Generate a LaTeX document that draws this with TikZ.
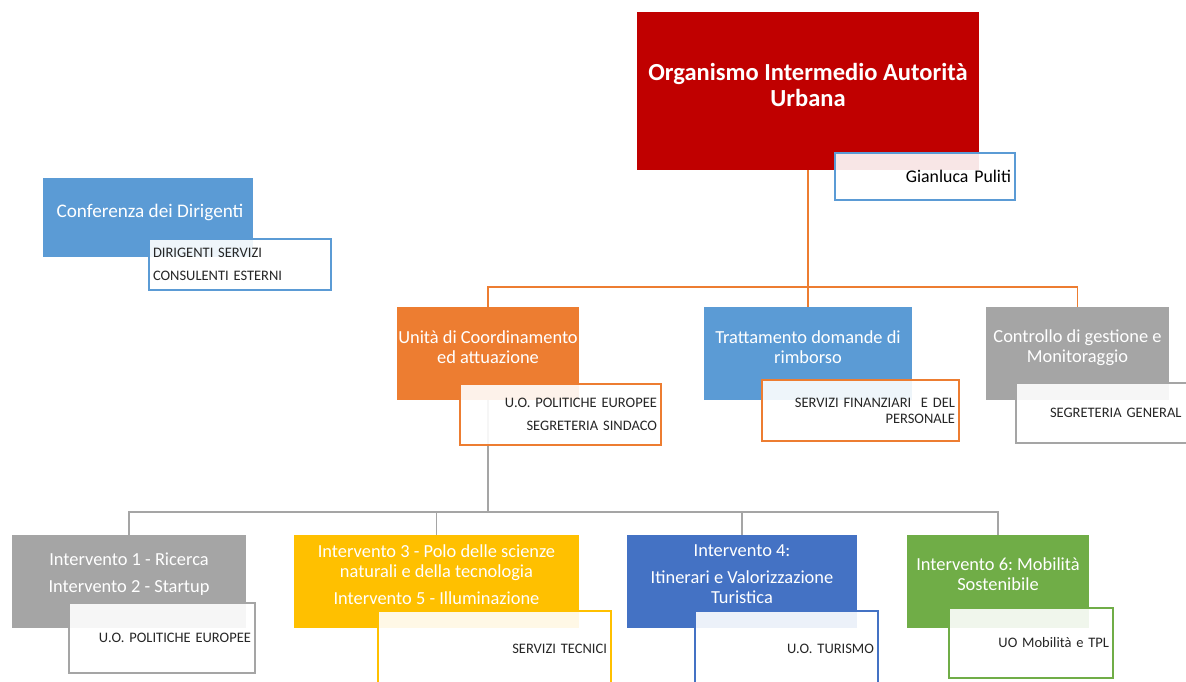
\documentclass[tikz,border=0pt]{standalone}
\usepackage{fontspec}
\setmainfont{Carlito}
\frenchspacing
\pgfdeclarelayer{background}
\pgfsetlayers{background,main}
\definecolor{cred}{HTML}{C00000}
\definecolor{corange}{HTML}{ED7D31}
\definecolor{cblue}{HTML}{5B9BD5}
\definecolor{cgray}{HTML}{A5A5A5}
\definecolor{cyellow}{HTML}{FFC000}
\definecolor{cdblue}{HTML}{4472C4}
\definecolor{cgreen}{HTML}{70AD47}
\definecolor{ctext}{HTML}{262626}
\tikzset{
  mainbox/.style={rectangle, inner sep=0pt, outer sep=0pt, draw=none},
  subbox/.style={rectangle, inner sep=0pt, outer sep=0pt, fill=white, fill opacity=0.9, text opacity=1, line width=1.5pt, text=ctext, font=\fontsize{14.5}{16}\selectfont},
  maintxt/.style={text=white, align=center, font=\fontsize{18.4}{20}\selectfont, inner sep=0pt},
  conn/.style={line width=1.8pt}
}
\begin{document}
\begin{tikzpicture}[x=1pt,y=-1pt]
\useasboundingbox (0,0) rectangle (1186,681);
\clip (0,0) rectangle (1186,681);
% main boxes
\node[mainbox, fill=cred, minimum width=342pt, minimum height=158pt] (top) at (808,91) {};
\node[mainbox, fill=cblue, minimum width=210pt, minimum height=79pt] (conf) at (148,217.5) {};
\node[mainbox, fill=corange, minimum width=182pt, minimum height=93pt] (unita) at (488,353.5) {};
\node[mainbox, fill=cblue, minimum width=208pt, minimum height=93pt] (tratt) at (808,353.5) {};
\node[mainbox, fill=cgray, minimum width=183pt, minimum height=93pt] (ctrl) at (1077.5,353.5) {};
\node[mainbox, fill=cgray, minimum width=234pt, minimum height=93pt] (b1) at (129,581.5) {};
\node[mainbox, fill=cyellow, minimum width=285pt, minimum height=93pt] (b2) at (436.5,581.5) {};
\node[mainbox, fill=cdblue, minimum width=230pt, minimum height=93pt] (b3) at (742,581.5) {};
\node[mainbox, fill=cgreen, minimum width=182pt, minimum height=93pt] (b4) at (998,581.5) {};
% main texts
\node[maintxt, font=\bfseries\fontsize{24.5}{26}\selectfont] (ttop) at (808,85) {Organismo Intermedio Autorità\\Urbana};
\node[maintxt, font=\fontsize{19.2}{20}\selectfont] (tconf) at (150,212) {Conferenza dei Dirigenti};
\node[maintxt] (tunita) at (488,347.5) {Unità di Coordinamento\\ed attuazione};
\node[maintxt] (ttratt) at (808,347.5) {Trattamento domande di\\rimborso};
\node[maintxt] (tctrl) at (1077.5,347.5) {Controllo di gestione e\\Monitoraggio};
\node[maintxt] (tb1) at (129,574.5) {Intervento 1 - Ricerca\\[7pt]Intervento 2 - Startup};
\node[maintxt] (tb2) at (436.5,574.5) {Intervento 3 - Polo delle scienze\\naturali e della tecnologia\\[7pt]Intervento 5 - Illuminazione};
\node[maintxt] (tb3) at (742,574.5) {Intervento 4:\\[7pt]Itinerari e Valorizzazione\\Turistica};
\node[maintxt] (tb4) at (998,574.5) {Intervento 6: Mobilità\\Sostenibile};
% sub boxes
\node[subbox, draw=cblue, minimum width=180pt, minimum height=47pt, text width=172pt, align=right, text=black, font=\fontsize{17.8}{19}\selectfont] (gian) at (925,176.5) {Gianluca Puliti};
\node[subbox, draw=cblue, minimum width=182pt, minimum height=51pt, text width=174pt, align=left] (sconf) at (240,264.5) {DIRIGENTI SERVIZI\\[7pt]CONSULENTI ESTERNI};
\node[subbox, draw=corange, minimum width=201pt, minimum height=61pt, text width=193pt, align=right] (sunita) at (560.5,414.5) {U.O. POLITICHE EUROPEE\\[7pt]SEGRETERIA SINDACO};
\node[subbox, draw=corange, minimum width=197pt, minimum height=61pt, text width=189pt, align=right] (stratt) at (860.5,410.5) {SERVIZI FINANZIARI\ \ E DEL\\PERSONALE};
\node[subbox, draw=cgray, minimum width=214pt, minimum height=60pt, text width=200pt, align=left] (sctrl) at (1123,413) {\hspace*{27pt}SEGRETERIA GENERAL};
\node[subbox, draw=cgray, minimum width=186pt, minimum height=70pt, text width=178pt, align=right] (sb1) at (162,638) {U.O. POLITICHE EUROPEE};
\node[subbox, draw=cyellow, minimum width=233pt, minimum height=79pt, text width=225pt, align=right] (sb2) at (494.5,650.5) {\raisebox{4pt}{SERVIZI TECNICI}};
\node[subbox, draw=cdblue, minimum width=183pt, minimum height=79pt, text width=175pt, align=right] (sb3) at (786.5,650.5) {\raisebox{4pt}{U.O. TURISMO}};
\node[subbox, draw=cgreen, minimum width=164pt, minimum height=70pt, text width=156pt, align=right] (sb4) at (1031,643) {UO Mobilità e TPL};
% connectors
\coordinate (bus1) at (808,287);
\coordinate (bus2) at (488,512);
\begin{pgfonlayer}{background}
\draw[conn, corange] (top.south) -- (tratt.north);
\draw[conn, corange] (unita.north) |- (bus1) -| (ctrl.north);
\draw[conn, cgray] (unita.south) -- (bus2);
\draw[conn, cgray] (b1.north) |- (bus2) -| (b4.north);
\draw[conn, cgray] (b2.north) -- (b2.north |- bus2);
\draw[conn, cgray] (b3.north) -- (b3.north |- bus2);
\end{pgfonlayer}
\end{tikzpicture}
\end{document}
